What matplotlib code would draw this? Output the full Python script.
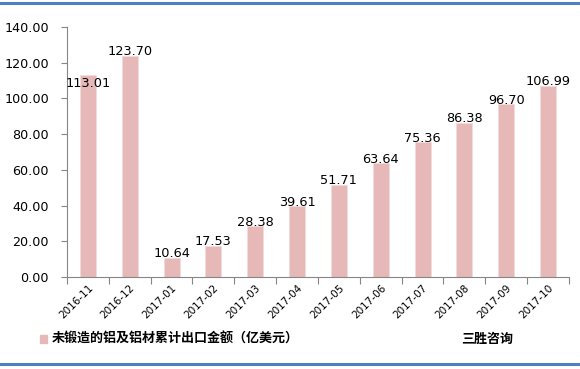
import matplotlib
matplotlib.use("Agg")
import matplotlib.pyplot as plt
from matplotlib.lines import Line2D
from matplotlib.patches import Rectangle

plt.rcParams['font.family'] = ['Noto Sans CJK SC', 'DejaVu Sans']

categories = ["2016-11", "2016-12", "2017-01", "2017-02", "2017-03", "2017-04",
              "2017-05", "2017-06", "2017-07", "2017-08", "2017-09", "2017-10"]
values = [113.01, 123.70, 10.64, 17.53, 28.38, 39.61, 51.71, 63.64, 75.36, 86.38, 96.70, 106.99]
yticks = [0, 20, 40, 60, 80, 100, 120, 140]
legend_label = "未锻造的铝及铝材累计出口金额（亿美元）"
source = "三胜咨询"

bar_color = "#E6B9B8"

fig = plt.figure(figsize=(5.8, 3.69), dpi=100)
ax = fig.add_axes([0.1155, 0.2493, 0.8655, 0.6775])

x = list(range(len(categories)))
ax.bar(x, values, width=0.38, color=bar_color, edgecolor="#F2DCDB", linewidth=0.6, zorder=2)
for i, v in enumerate(values):
    off = -6 if i == 0 else 3
    ax.annotate(f"{v:.2f}", (i, v), xytext=(0, off), textcoords="offset points",
                ha="center", va="center", fontsize=9.3, family="DejaVu Sans", color="#000000", zorder=3)

ax.set_xlim(-0.5, len(categories) - 0.5)
ax.set_ylim(0, 140)
ax.set_yticks(yticks)
ax.set_yticklabels([f"{t:.2f}" for t in yticks], fontsize=9.2, family="DejaVu Sans")
ax.set_xticks([i - 0.5 for i in range(len(categories) + 1)])
ax.set_xticklabels([])
ax.set_xticks(x, minor=True)
ax.set_xticklabels(categories, minor=True, rotation=45, ha="right", rotation_mode="anchor",
                   fontsize=7.5, family="DejaVu Sans")
ax.tick_params(axis="x", which="minor", length=0, pad=4)
ax.tick_params(axis="x", which="major", length=5, color="#868686", direction="out")
ax.tick_params(axis="y", length=4, color="#868686", direction="out", pad=9)
for s in ["top", "right"]:
    ax.spines[s].set_visible(False)
for s in ["left", "bottom"]:
    ax.spines[s].set_color("#868686")
    ax.spines[s].set_linewidth(0.8)

# legend
fig.patches.append(Rectangle((40 / 580, 1 - 343 / 369), 7 / 580, 8 / 369,
                             transform=fig.transFigure, color=bar_color))
fig.text(52 / 580, 1 - 339 / 369, legend_label, fontsize=9.4, fontweight="bold",
         va="center", ha="left")
fig.text(461 / 580, 1 - 339 / 369, source, fontsize=9.4, fontweight="bold",
         va="center", ha="left")

# border lines
fig.lines.append(Line2D([0, 1], [1 - 2.5 / 369] * 2, transform=fig.transFigure,
                        color="#4F81BD", linewidth=2.2))
fig.lines.append(Line2D([0, 1], [1 - 363.5 / 369] * 2, transform=fig.transFigure,
                        color="#4F81BD", linewidth=2.2))

fig.savefig("out.png", dpi=100)
